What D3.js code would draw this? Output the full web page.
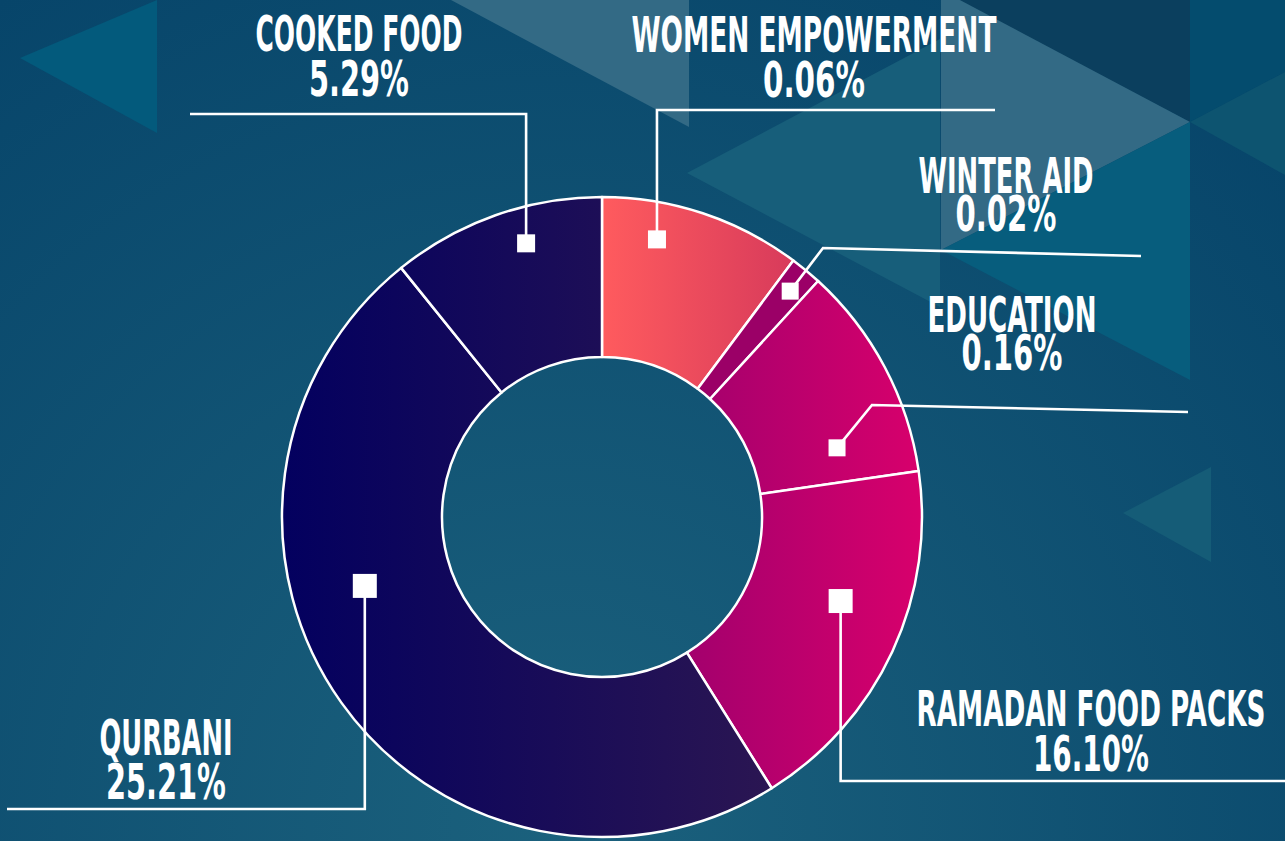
<!DOCTYPE html>
<html>
<head>
<meta charset="utf-8">
<script src="https://cdn.jsdelivr.net/npm/d3@7"></script>
<style>
  html, body { margin: 0; padding: 0; background: #0a4868; overflow: hidden; }
  text { font-family: "DejaVu Sans Condensed", "DejaVu Sans", sans-serif; font-weight: bold; fill: #fff; }
</style>
</head>
<body>
<svg id="chart"></svg>
<script>
// data
const categories = ["WOMEN EMPOWERMENT", "WINTER AID", "EDUCATION", "RAMADAN FOOD PACKS", "QURBANI", "COOKED FOOD"];
// share of the ring each slice takes (as drawn, in % of the circle)
const sliceShares = [10.2, 1.6, 10.9, 18.4, 48.1, 10.8];
// the percentages printed on the labels
const labelPercents = ["0.06%", "0.02%", "0.16%", "16.10%", "25.21%", "5.29%"];

// layout bits (not data)
const width = 1285, height = 841;
const cx = 602, cy = 517;
const outerR = 320, innerR = 160;

const sliceFills = ["url(#gWomen)", "#9b0067", "url(#gPink)", "url(#gPink)", "url(#gNavy)", "url(#gNavy)"];
// marker spot: angle (deg, clockwise from top), distance from centre, square size
const markerSpots = [[11.2, 283, 18], [39.8, 294, 17], [73.6, 245, 17], [109.4, 253, 24], [253.8, 247, 24], [344.5, 284, 18]];
// leader: elbow point and end point (page coords); null elbow x => straight up/down from marker
const leaders = [
  {elbow: [null, 110], end: [995, 110]},
  {elbow: [823, 248], end: [1141, 256]},
  {elbow: [872, 405], end: [1188, 412]},
  {elbow: [null, 781], end: [1285, 781]},
  {elbow: [null, 809], end: [7, 809]},
  {elbow: [null, 114], end: [190, 114]}
];
// label: centre x, baseline of name, baseline of value, widths
const labelPos = [
  [814, 52, 97, 365, 102],
  [1006, 193, 231, 175, 101],
  [1012, 332, 370, 169, 101],
  [1091, 726, 771, 349, 116],
  [166, 755, 799, 133, 120],
  [359, 51, 96, 207, 100]
];

const svg = d3.select("#chart").attr("width", width).attr("height", height);
const defs = svg.append("defs");

function linGrad(id, x1, x2, c1, c2) {
  const g = defs.append("linearGradient").attr("id", id)
    .attr("gradientUnits", "userSpaceOnUse")
    .attr("x1", x1).attr("y1", 0).attr("x2", x2).attr("y2", 0);
  g.append("stop").attr("offset", 0).attr("stop-color", c1);
  g.append("stop").attr("offset", 1).attr("stop-color", c2);
}
linGrad("gWomen", 0, 190, "#ff5b5e", "#d83b5b");
linGrad("gPink", 90, 320, "#a4006d", "#d8006c");
linGrad("gNavy", -320, 175, "#03005f", "#2b1652");

const bg = defs.append("radialGradient").attr("id", "bg")
  .attr("gradientUnits", "userSpaceOnUse")
  .attr("cx", 560).attr("cy", 830).attr("r", 1000);
bg.append("stop").attr("offset", 0).attr("stop-color", "#1b617d");
bg.append("stop").attr("offset", 1).attr("stop-color", "#07456a");

svg.append("rect").attr("width", width).attr("height", height).attr("fill", "url(#bg)");

// background triangles
const shapes = [
  {pts: [[20, 58], [157, 0], [157, 133]], fill: "#035a7c"},
  {pts: [[451, 0], [689, 0], [689, 127]], fill: "#336a85"},
  {pts: [[687, 173], [940, 39], [940, 307]], fill: "#175e7a"},
  {pts: [[955, 0], [1190, 0], [1190, 122]], fill: "#0b3f5e"},
  {pts: [[941, -10], [1190, 122], [941, 250]], fill: "#336a85"},
  {pts: [[941, 250], [1190, 122], [1190, 380]], fill: "#075d7d"},
  {pts: [[1190, 0], [1285, 0], [1285, 72], [1190, 122]], fill: "#044c6e"},
  {pts: [[1190, 122], [1285, 72], [1285, 175]], fill: "#0d5470"},
  {pts: [[1123, 513], [1211, 467], [1211, 562]], fill: "#155c77"}
];
svg.append("g").attr("class", "bg-shapes")
  .selectAll("polygon")
  .data(shapes)
  .enter()
  .append("polygon")
    .attr("points", d => d.pts.map(p => p.join(",")).join(" "))
    .attr("fill", d => d.fill);

const rows = categories.map((c, i) => ({
  name: c,
  share: sliceShares[i],
  label: labelPercents[i],
  fill: sliceFills[i],
  spot: markerSpots[i],
  leader: leaders[i],
  pos: labelPos[i]
}));

const pie = d3.pie().sort(null).value(d => d.share);
const arc = d3.arc().innerRadius(innerR).outerRadius(outerR);

const donut = svg.append("g")
  .attr("class", "donut")
  .attr("transform", `translate(${cx}, ${cy})`);

donut.selectAll("path")
  .data(pie(rows))
  .enter()
  .append("path")
    .attr("d", arc)
    .attr("fill", d => d.data.fill)
    .attr("stroke", "#fff")
    .attr("stroke-width", 2.5)
    .attr("stroke-linejoin", "round");

// leaders and markers
const marks = svg.append("g").attr("class", "leaders");
rows.forEach(d => {
  const p = d3.pointRadial(d.spot[0] * Math.PI / 180, d.spot[1]);
  const mx = cx + p[0], my = cy + p[1];
  const ex = d.leader.elbow[0] === null ? mx : d.leader.elbow[0];
  marks.append("polyline")
    .attr("points", [[mx, my], [ex, d.leader.elbow[1]], d.leader.end].map(q => q.join(",")).join(" "))
    .attr("fill", "none")
    .attr("stroke", "#fff")
    .attr("stroke-width", 2.6);
  const s = d.spot[2];
  marks.append("rect")
    .attr("x", mx - s / 2).attr("y", my - s / 2)
    .attr("width", s).attr("height", s)
    .attr("fill", "#fff");
});

// labels: squeeze each line horizontally to the width it has in the picture
const labels = svg.append("g").attr("class", "labels");
function squeezedLine(str, xc, yb, w) {
  const t = labels.append("text")
    .attr("font-size", 49)
    .attr("x", 0).attr("y", 0)
    .text(str);
  const natural = t.node().getComputedTextLength();
  t.attr("transform", `translate(${xc - w / 2}, ${yb}) scale(${w / natural}, 1)`);
}
rows.forEach(d => {
  const [x, y1, y2, w1, w2] = d.pos;
  squeezedLine(d.name, x, y1, w1);
  squeezedLine(d.label, x, y2, w2);
});
</script>
</body>
</html>
